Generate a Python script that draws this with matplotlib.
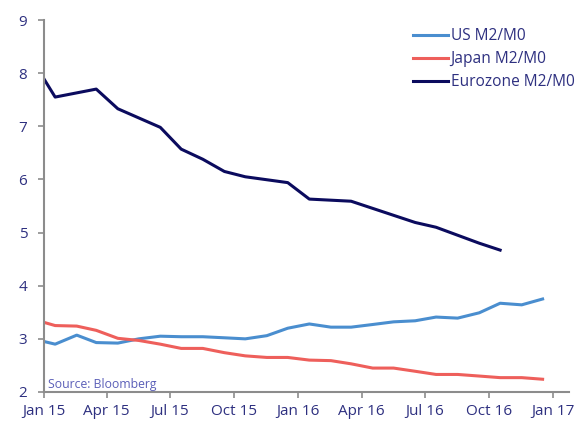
import pandas as pd
import matplotlib
matplotlib.use("Agg")
import matplotlib.pyplot as plt

# monthly readings (mid-month), first point sits on the axis start
us_dates = ["2015-01-01", "2015-01-17", "2015-02-17", "2015-03-17", "2015-04-17", "2015-05-17",
            "2015-06-17", "2015-07-17", "2015-08-17", "2015-09-17", "2015-10-17", "2015-11-17",
            "2015-12-17", "2016-01-17", "2016-02-17", "2016-03-17", "2016-04-17", "2016-05-17",
            "2016-06-17", "2016-07-17", "2016-08-17", "2016-09-17", "2016-10-17", "2016-11-17",
            "2016-12-17"]
us = [2.95, 2.90, 3.07, 2.93, 2.92, 3.00, 3.05, 3.04, 3.04, 3.02, 3.00, 3.06, 3.20,
      3.28, 3.22, 3.22, 3.27, 3.32, 3.34, 3.41, 3.39, 3.49, 3.67, 3.64, 3.75]
japan = [3.31, 3.25, 3.24, 3.16, 3.01, 2.97, 2.90, 2.82, 2.82, 2.74, 2.68, 2.65, 2.65,
         2.60, 2.59, 2.53, 2.45, 2.45, 2.39, 2.33, 2.33, 2.30, 2.27, 2.27, 2.24]

ez_dates = ["2015-01-01", "2015-01-17", "2015-03-17", "2015-04-17", "2015-06-17", "2015-07-17",
            "2015-08-17", "2015-09-17", "2015-10-17", "2015-12-17", "2016-01-17", "2016-03-17",
            "2016-06-17", "2016-07-17", "2016-09-17", "2016-10-17"]
eurozone = [7.89, 7.55, 7.70, 7.33, 6.98, 6.57, 6.38, 6.15, 6.05, 5.94, 5.63, 5.59,
            5.19, 5.10, 4.80, 4.67]

xticks = ["2015-01-01", "2015-04-01", "2015-07-01", "2015-10-01", "2016-01-01",
          "2016-04-01", "2016-07-01", "2016-10-01", "2017-01-01"]
xlabels = ["Jan 15", "Apr 15", "Jul 15", "Oct 15", "Jan 16", "Apr 16", "Jul 16", "Oct 16", "Jan 17"]

navy = "#2e3080"
plt.rcParams["font.family"] = ["Open Sans", "DejaVu Sans"]

fig = plt.figure(figsize=(5.86, 4.24), dpi=100)
ax = fig.add_axes([0.0751, 0.0755, 0.896, 0.8773])

ax.plot(pd.to_datetime(us_dates), us, color="#4a8ecf", lw=2.2, label="US M2/M0")
ax.plot(pd.to_datetime(us_dates), japan, color="#ee5f5b", lw=2.2, label="Japan M2/M0")
ax.plot(pd.to_datetime(ez_dates), eurozone, color="#0b0b5e", lw=2.2, label="Eurozone M2/M0")

ax.set_xlim(pd.Timestamp("2015-01-01"), pd.Timestamp("2017-01-24"))
ax.set_ylim(2, 9)
ax.set_xticks(pd.to_datetime(xticks))
ax.set_xticklabels(xlabels)
ax.set_yticks(range(2, 10))

for s in ["top", "right"]:
    ax.spines[s].set_visible(False)
for s in ["left", "bottom"]:
    ax.spines[s].set_color("#8c8c8c")
    ax.spines[s].set_linewidth(1.5)
ax.tick_params(colors="#8c8c8c", length=4, width=1.2, labelcolor=navy, labelsize=11)
ax.tick_params(axis="x", pad=5)
ax.tick_params(axis="y", pad=8)

ax.text(0.008, 0.012, "Source: Bloomberg", transform=ax.transAxes, color="#5b5fb8", fontsize=8.8)

leg = ax.legend(loc="upper left", bbox_to_anchor=(0.69, 0.995), frameon=False, fontsize=11.2,
                handlelength=2.3, handletextpad=0.15, labelspacing=0.45, borderaxespad=0)
for t in leg.get_texts():
    t.set_color(navy)

fig.savefig("out.png", dpi=100)
